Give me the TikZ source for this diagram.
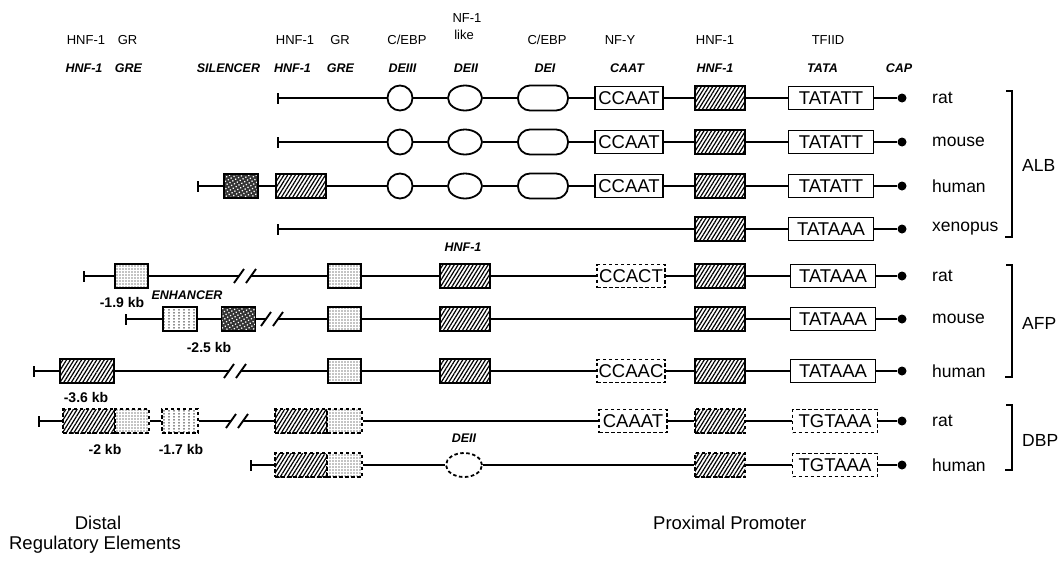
\documentclass[tikz,border=0pt]{standalone}
\usepackage{fontspec}
\setmainfont{Liberation Sans}
\usetikzlibrary{patterns,patterns.meta,arrows.meta,shapes.geometric}
\newcommand\hdrfont{\fontsize{13}{13}\selectfont}
\newcommand\ihdrfont{\fontsize{12.5}{12.5}\selectfont\bfseries\itshape}
\newcommand\seqfont{\fontsize{18.5}{18.5}\selectfont}
\newcommand\spfont{\fontsize{17.5}{17.5}\selectfont}
\newcommand\kbfont{\fontsize{14}{14}\selectfont\bfseries}
\newcommand\bigfont{\fontsize{18.5}{18.5}\selectfont}
\pgfdeclarepatternformonly{vdotpat}{\pgfpointorigin}{\pgfpoint{4.5pt}{2.6pt}}{\pgfpoint{4.5pt}{2.6pt}}{\pgfpathrectangle{\pgfpoint{1.6pt}{0.6pt}}{\pgfpoint{1.3pt}{1.3pt}}\pgfusepath{fill}}
\tikzset{
  dna/.style={line width=1.9pt},
  tick/.style={{Bar[width=11pt,line width=1.9pt]}-},
  el/.style={draw, line width=1.8pt, inner sep=0pt, minimum height=24pt},
  wh/.style={el, fill=white},
  dsh/.style={dash pattern=on 3.5pt off 2.5pt},
  seq/.style={wh, rectangle, minimum width=68pt, minimum height=23pt, font=\seqfont},
  tata/.style={seq, minimum width=85pt},
  circ/.style={wh, circle, minimum size=25pt},
  ell/.style={wh, ellipse, minimum width=34pt, minimum height=25pt},
  stad/.style={wh, rectangle, rounded corners=12pt, minimum width=50pt, minimum height=25pt},
  hatchbox/.style={el, rectangle, minimum width=50pt, preaction={fill=white}, pattern={Lines[angle=58,distance=3.2pt,line width=1.2pt]}},
  stipbox/.style={el, rectangle, minimum width=33pt, preaction={fill=white}, pattern={Dots[distance=3pt,radius=0.65pt]}},
  vdotbox/.style={el, rectangle, minimum width=34pt, preaction={fill=white}, pattern=vdotpat},
  mottbox/.style={el, rectangle, minimum width=34pt, preaction={fill=black!80}, pattern={Dots[distance=3.3pt,radius=0.9pt,angle=30]}, pattern color=white},
  capdot/.style={circle, fill=black, inner sep=0pt, minimum size=9pt},
  sp/.style={anchor=west, font=\spfont, inner sep=0pt},
  hdr/.style={font=\hdrfont, inner sep=0pt},
  ihdr/.style={font=\ihdrfont, inner sep=0pt},
  kb/.style={font=\kbfont, inner sep=0pt},
  grp/.style={anchor=west, font=\spfont, inner sep=0pt},
  brk/.pic={\draw[dna] (-5,7) -- (5,-7);}
}
\begin{document}
\begin{tikzpicture}[x=1pt,y=-1pt]
\useasboundingbox (0,0) rectangle (1062,563);
% ---------- headers ----------
\node[hdr] (h1) at (86,40) {HNF-1};
\node[hdr] (h2) at (127.5,40) {GR};
\node[hdr] (h3) at (295,40) {HNF-1};
\node[hdr] (h4) at (340,40) {GR};
\node[hdr] (h5) at (407,40) {C/EBP};
\node[hdr] (h6a) at (467,18) {NF-1};
\node[hdr] (h6b) at (464,35) {like};
\node[hdr] (h7) at (547,40) {C/EBP};
\node[hdr] (h8) at (620,40) {NF-Y};
\node[hdr] (h9) at (715,40) {HNF-1};
\node[hdr] (h10) at (828,40) {TFIID};
\node[ihdr] (i1) at (84,68) {HNF-1};
\node[ihdr] (i2) at (128.5,68) {GRE};
\node[ihdr] (i3) at (228.5,68) {SILENCER};
\node[ihdr] (i4) at (292.5,68) {HNF-1};
\node[ihdr] (i5) at (340.5,68) {GRE};
\node[ihdr] (i6) at (402.5,68) {DEIII};
\node[ihdr] (i7) at (466,68) {DEII};
\node[ihdr] (i8) at (545,68) {DEI};
\node[ihdr] (i9) at (627,68) {CAAT};
\node[ihdr] (i10) at (715,68) {HNF-1};
\node[ihdr] (i11) at (822.5,68) {TATA};
\node[ihdr] (i12) at (899,68) {CAP};
% ---------- ALB rat ----------
\coordinate (ar-t) at (277,98);
\node[circ] (ar-3) at (400,98) {};
\node[ell] (ar-2) at (465,98) {};
\node[stad] (ar-1) at (543,98) {};
\node[seq] (ar-c) at (629,98) {CCAAT};
\node[hatchbox] (ar-h) at (720,98) {};
\node[tata] (ar-ta) at (831,98) {TATATT};
\node[capdot] (ar-d) at (902,98) {};
\node[sp] (ar-s) at (932,98) {rat};
\draw[dna,tick] (ar-t) -- (ar-3);
\draw[dna] (ar-3) -- (ar-2) -- (ar-1) -- (ar-c) -- (ar-h) -- (ar-ta) -- (ar-d);
% ---------- ALB mouse ----------
\coordinate (am-t) at (277,142);
\node[circ] (am-3) at (400,142) {};
\node[ell] (am-2) at (465,142) {};
\node[stad] (am-1) at (543,142) {};
\node[seq] (am-c) at (629,142) {CCAAT};
\node[hatchbox] (am-h) at (720,142) {};
\node[tata] (am-ta) at (831,142) {TATATT};
\node[capdot] (am-d) at (902,142) {};
\node[sp] (am-s) at (932,142) {mouse};
\draw[dna,tick] (am-t) -- (am-3);
\draw[dna] (am-3) -- (am-2) -- (am-1) -- (am-c) -- (am-h) -- (am-ta) -- (am-d);
% ---------- ALB human ----------
\coordinate (ah-t) at (197,186);
\node[mottbox] (ah-s) at (241,186) {};
\node[hatchbox] (ah-hd) at (301,186) {};
\node[circ] (ah-3) at (400,186) {};
\node[ell] (ah-2) at (465,186) {};
\node[stad] (ah-1) at (543,186) {};
\node[seq] (ah-c) at (629,186) {CCAAT};
\node[hatchbox] (ah-h) at (720,186) {};
\node[tata] (ah-ta) at (831,186) {TATATT};
\node[capdot] (ah-d) at (902,186) {};
\node[sp] (ah-l) at (932,186) {human};
\draw[dna,tick] (ah-t) -- (ah-s);
\draw[dna] (ah-s) -- (ah-hd) -- (ah-3) -- (ah-2) -- (ah-1) -- (ah-c) -- (ah-h) -- (ah-ta) -- (ah-d);
% ---------- ALB xenopus ----------
\coordinate (ax-t) at (277,229);
\node[hatchbox] (ax-h) at (720,229) {};
\node[tata] (ax-ta) at (831,229) {TATAAA};
\node[capdot] (ax-d) at (902,229) {};
\node[sp] (ax-s) at (932,229) {xenopus};
\draw[dna,tick] (ax-t) -- (ax-h);
\draw[dna] (ax-h) -- (ax-ta) -- (ax-d);
% ---------- AFP rat ----------
\coordinate (fr-t) at (83,276);
\node[stipbox] (fr-a) at (131.5,276) {};
\coordinate (fr-b1) at (239,276);
\coordinate (fr-b2) at (251,276);
\node[stipbox] (fr-g) at (344.5,276) {};
\node[hatchbox] (fr-h1) at (465,276) {};
\node[seq,dsh] (fr-c) at (631,276) {CCACT};
\node[hatchbox] (fr-h) at (720,276) {};
\node[tata] (fr-ta) at (833,276) {TATAAA};
\node[capdot] (fr-d) at (902,276) {};
\node[sp] (fr-s) at (932,276) {rat};
\draw[dna,tick] (fr-t) -- (fr-a);
\draw[dna] (fr-a) -- (fr-b1);
\pic at (fr-b1) {brk};
\pic at (fr-b2) {brk};
\draw[dna] (fr-b2) -- (fr-g) -- (fr-h1) -- (fr-c) -- (fr-h) -- (fr-ta) -- (fr-d);
\node[kb] (l19) at (122,302) {-1.9 kb};
\node[ihdr] (lenh) at (187,295) {ENHANCER};
\node[ihdr] (lhnf) at (463,247) {HNF-1};
% ---------- AFP mouse ----------
\coordinate (fm-t) at (125,319);
\node[vdotbox] (fm-a) at (180,319) {};
\node[mottbox] (fm-e) at (238.5,319) {};
\coordinate (fm-b1) at (266,319);
\coordinate (fm-b2) at (278,319);
\node[stipbox] (fm-g) at (344.5,319) {};
\node[hatchbox] (fm-h1) at (465,319) {};
\node[hatchbox] (fm-h) at (720,319) {};
\node[tata] (fm-ta) at (833,319) {TATAAA};
\node[capdot] (fm-d) at (902,319) {};
\node[sp] (fm-s) at (932,319) {mouse};
\draw[dna,tick] (fm-t) -- (fm-a);
\draw[dna] (fm-a) -- (fm-e) -- (fm-b1);
\pic at (fm-b1) {brk};
\pic at (fm-b2) {brk};
\draw[dna] (fm-b2) -- (fm-g) -- (fm-h1) -- (fm-h) -- (fm-ta) -- (fm-d);
\node[kb] (l25) at (209,347) {-2.5 kb};
% ---------- AFP human ----------
\coordinate (fh-t) at (33,371);
\node[hatchbox, minimum width=54pt] (fh-a) at (87,371) {};
\coordinate (fh-b1) at (229,371);
\coordinate (fh-b2) at (241,371);
\node[stipbox] (fh-g) at (344.5,371) {};
\node[hatchbox] (fh-h1) at (465,371) {};
\node[seq,dsh] (fh-c) at (631,371) {CCAAC};
\node[hatchbox] (fh-h) at (720,371) {};
\node[tata] (fh-ta) at (833,371) {TATAAA};
\node[capdot] (fh-d) at (902,371) {};
\node[sp] (fh-s) at (932,371) {human};
\draw[dna,tick] (fh-t) -- (fh-a);
\draw[dna] (fh-a) -- (fh-b1);
\pic at (fh-b1) {brk};
\pic at (fh-b2) {brk};
\draw[dna] (fh-b2) -- (fh-g) -- (fh-h1) -- (fh-c) -- (fh-h) -- (fh-ta) -- (fh-d);
\node[kb] (l36) at (86,397) {-3.6 kb};
% ---------- DBP rat ----------
\coordinate (dr-t) at (38,421);
\node[hatchbox,dsh,minimum width=52pt] (dr-a) at (89,421) {};
\node[stipbox,dsh,minimum width=34pt] (dr-a2) at (132,421) {};
\node[vdotbox,dsh,minimum width=36pt] (dr-v) at (180,421) {};
\coordinate (dr-b1) at (231,421);
\coordinate (dr-b2) at (243,421);
\node[hatchbox,dsh,minimum width=52pt] (dr-g1) at (301,421) {};
\node[stipbox,dsh,minimum width=35pt] (dr-g2) at (344.5,421) {};
\node[seq,dsh] (dr-c) at (633,421) {CAAAT};
\node[hatchbox,dsh] (dr-h) at (720,421) {};
\node[tata,dsh] (dr-ta) at (835,421) {TGTAAA};
\node[capdot] (dr-d) at (902,421) {};
\node[sp] (dr-s) at (932,421) {rat};
\draw[dna,tick] (dr-t) -- (dr-a);
\draw[dna] (dr-a2) -- (dr-v);
\draw[dna] (dr-v) -- (dr-b1);
\pic at (dr-b1) {brk};
\pic at (dr-b2) {brk};
\draw[dna] (dr-b2) -- (dr-g1);
\draw[dna] (dr-g2) -- (dr-c) -- (dr-h) -- (dr-ta) -- (dr-d);
\node[kb] (l2) at (105,449) {-2 kb};
\node[kb] (l17) at (181,449) {-1.7 kb};
% ---------- DBP human ----------
\coordinate (dh-t) at (250,465);
\node[hatchbox,dsh,minimum width=52pt] (dh-g1) at (301,465) {};
\node[stipbox,dsh,minimum width=35pt] (dh-g2) at (344.5,465) {};
\node[ell,dsh,minimum width=36pt,minimum height=24pt] (dh-e) at (464,465) {};
\node[hatchbox,dsh] (dh-h) at (720,465) {};
\node[tata,dsh] (dh-ta) at (835,465) {TGTAAA};
\node[capdot] (dh-d) at (902,465) {};
\node[sp] (dh-s) at (932,465) {human};
\draw[dna,tick] (dh-t) -- (dh-g1);
\draw[dna] (dh-g2) -- (dh-e) -- (dh-h) -- (dh-ta) -- (dh-d);
\node[ihdr] (ldeii) at (464,438) {DEII};
% ---------- brackets ----------
\draw[line width=1.6pt] (1006,91) -- (1012,91) -- (1012,237) -- (1005,237);
\node[grp] (gALB) at (1022,165) {ALB};
\draw[line width=1.6pt] (1006,265) -- (1012,265) -- (1012,377) -- (1005,377);
\node[grp] (gAFP) at (1022,323) {AFP};
\draw[line width=1.6pt] (1006,405) -- (1012,405) -- (1012,470) -- (1005,470);
\node[grp] (gDBP) at (1022,440) {DBP};
% ---------- bottom labels ----------
\node[font=\bigfont, inner sep=0pt] (bd1) at (98,523) {Distal};
\node[font=\bigfont, inner sep=0pt] (bd2) at (95,545) {Regulatory Elements};
\node[font=\bigfont, inner sep=0pt, anchor=west] (bp) at (653,523) {Proximal Promoter};
\end{tikzpicture}
\end{document}
